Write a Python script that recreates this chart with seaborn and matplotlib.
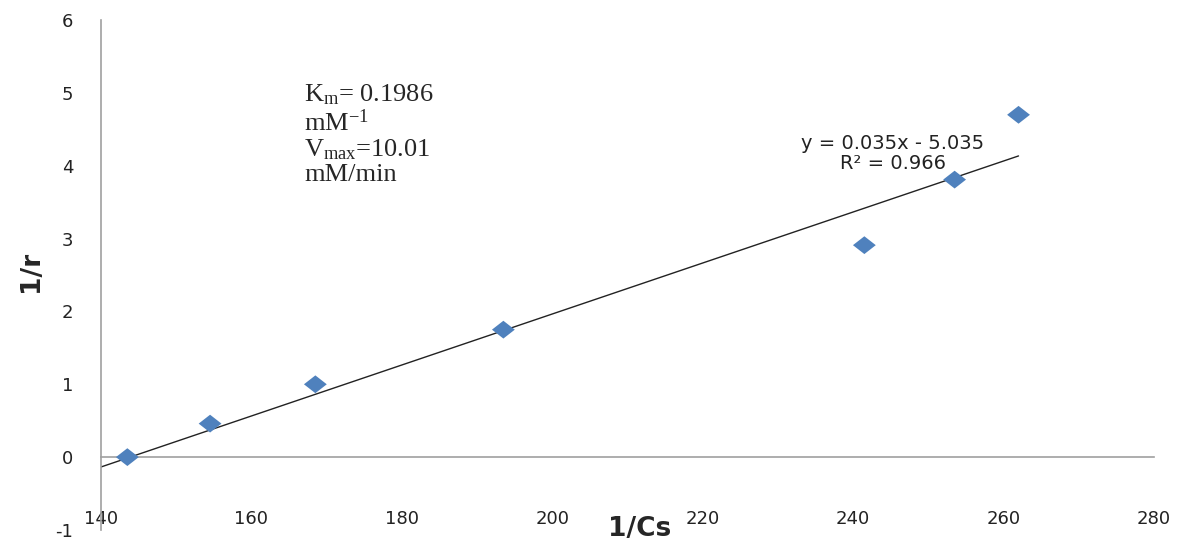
import numpy as np
import pandas as pd
import seaborn as sns
from matplotlib import pyplot as plt

# data
inv_cs = [143.5, 154.5, 168.5, 193.5, 241.5, 253.5, 262.0]
inv_r = [0.0, 0.46, 1.0, 1.75, 2.91, 3.81, 4.70]
slope, intercept = 0.035, -5.035
x_ticks = [140, 160, 180, 200, 220, 240, 260, 280]
y_ticks = [-1, 0, 1, 2, 3, 4, 5, 6]

sns.set_style('white')
plt.rcParams['font.family'] = ['DejaVu Sans']
plt.rcParams['axes.unicode_minus'] = False
plt.rcParams['mathtext.fontset'] = 'custom'
plt.rcParams['mathtext.rm'] = 'Liberation Serif'
plt.rcParams['mathtext.it'] = 'Liberation Serif'

df = pd.DataFrame({'x': inv_cs, 'y': inv_r})
fit_x = np.array([x_ticks[0], max(inv_cs)])
fit = pd.DataFrame({'x': fit_x, 'y': slope * fit_x + intercept})

# Excel-like diamond, a bit wider than tall
diamond = [(-1, 0), (0, 0.78), (1, 0), (0, -0.78), (-1, 0)]

fig = plt.figure(figsize=(11.83, 5.43), dpi=100)
ax = fig.add_axes([0.0854, 0.024, 0.89, 0.939])

sns.lineplot(data=fit, x='x', y='y', color='#222222', lw=1, ax=ax)
sns.scatterplot(data=df, x='x', y='y', marker=diamond, s=270, color='#4F81BD',
                edgecolor='none', ax=ax, zorder=3)

ax.set_xlim(140, 280)
ax.set_ylim(-1, 6)
ax.set_xticks(x_ticks)
ax.set_yticks(y_ticks)
ax.spines['left'].set_position(('data', 140))
ax.spines['bottom'].set_position(('data', 0))
for s in ['top', 'right']:
    ax.spines[s].set_visible(False)
for s in ['left', 'bottom']:
    ax.spines[s].set_color('#A0A0A0')
    ax.spines[s].set_linewidth(1.2)
ax.tick_params(axis='x', length=0, pad=38, labelsize=13, colors='#222222')
ax.tick_params(axis='y', length=0, pad=20, labelsize=13, colors='#222222')

ax.set_xlabel('')
ax.set_ylabel('')
fig.text(0.541, 0.026, '1/Cs', fontsize=19, fontweight='bold', ha='center', va='center')
fig.text(0.026, 0.5, '1/r', fontsize=19, fontweight='bold', rotation=90,
         ha='center', va='center')

ax.text(0.193, 0.878,
        'K$_\\mathrm{m}$= 0.1986\nmM$^\\mathrm{-1}$\nV$_\\mathrm{max}$=10.01\nmM/min',
        transform=ax.transAxes, family='Liberation Serif', fontsize=19,
        va='top', ha='left', linespacing=1.1)
ax.text(0.752, 0.738, 'y = 0.035x - 5.035\nR² = 0.966', transform=ax.transAxes,
        fontsize=14, ha='center', va='center', linespacing=1.05, color='#222222')

plt.savefig('out.png', dpi=100)
